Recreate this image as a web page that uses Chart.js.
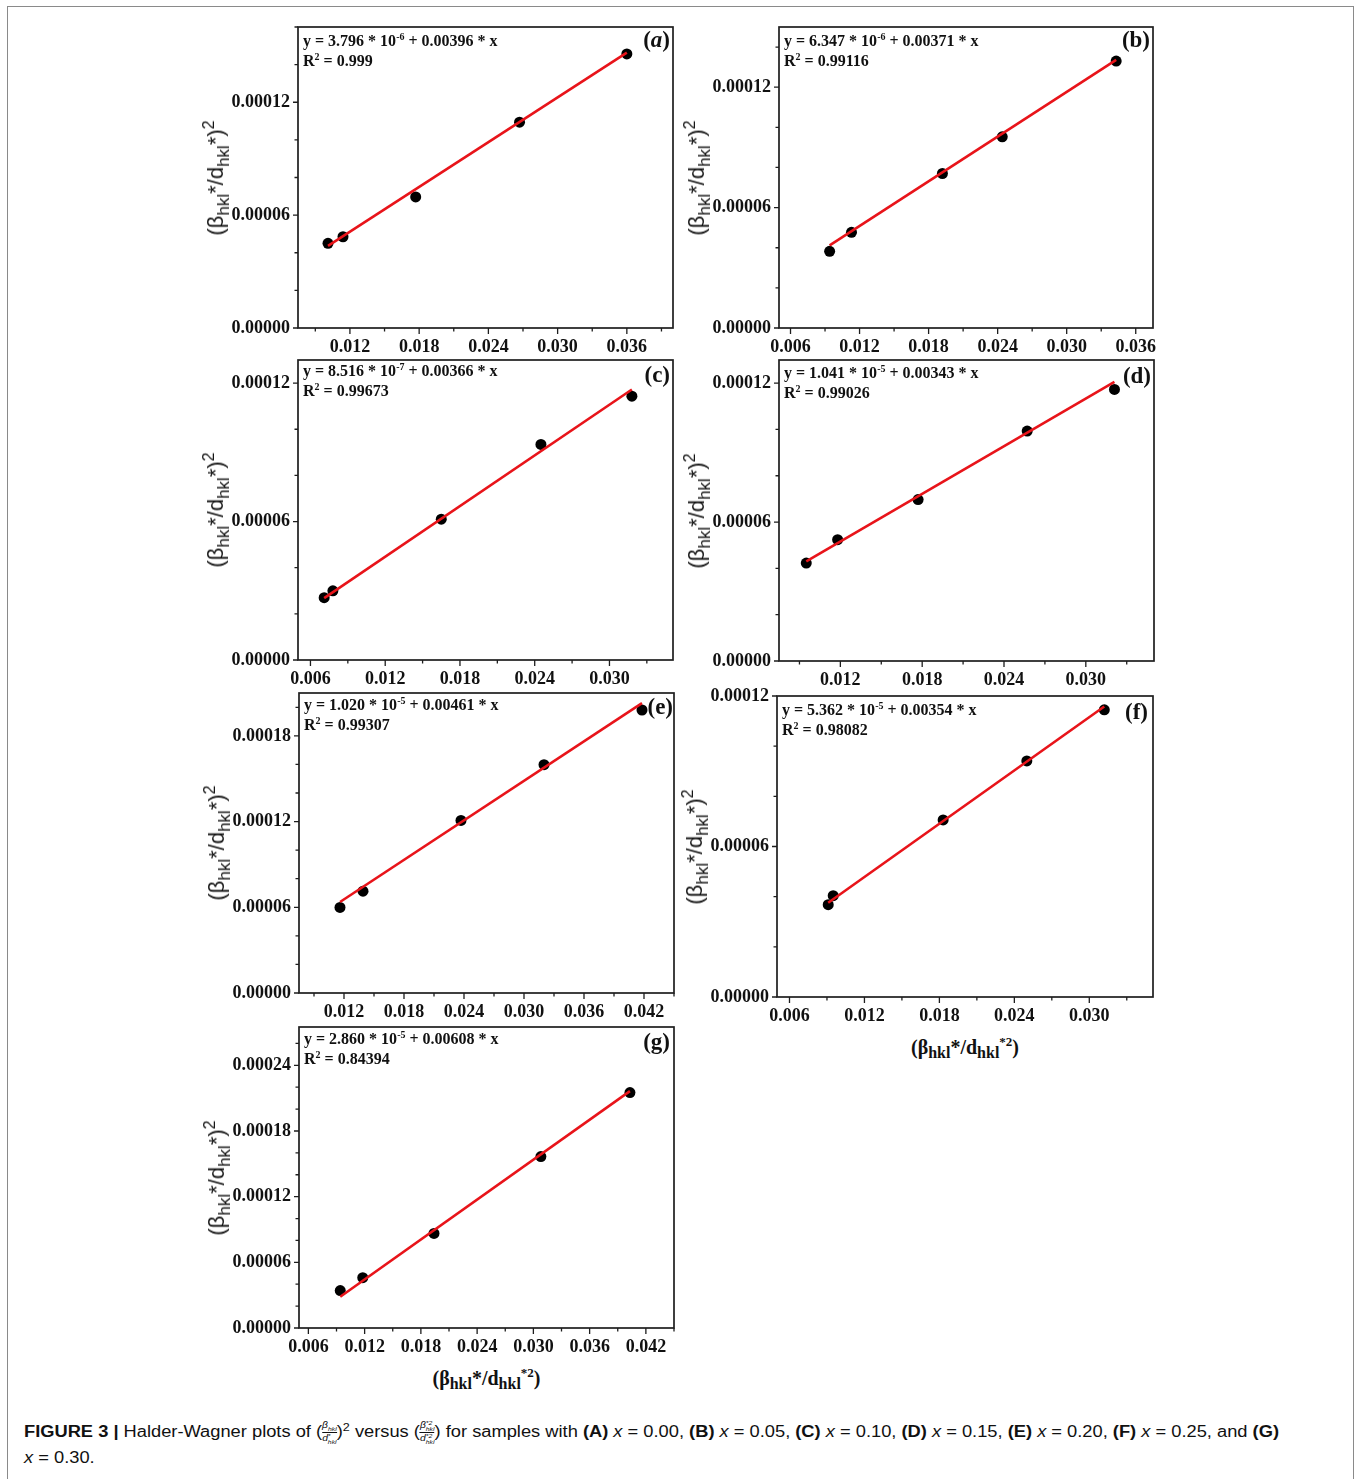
<!DOCTYPE html>
<html>
<head>
<meta charset="utf-8">
<script src="https://cdn.jsdelivr.net/npm/chart.js@4.4.1/dist/chart.umd.min.js"></script>
<style>
body { margin: 0; background: #fff; width: 1356px; height: 1479px; position: relative; overflow: hidden; }
#border { position: absolute; left: 7px; top: 6px; width: 1347px; height: 1500px; border: 1.5px solid #8a8a8a; box-sizing: border-box; }
.panel { position: absolute; }
.panel canvas { position: absolute; left: 0; top: 0; }
.eq { position: absolute; font-family: 'Liberation Serif', serif; font-weight: bold; font-size: 16px; line-height: 20px; color: #111; white-space: nowrap; }
.eq sup { font-size: 10px; vertical-align: 6px; line-height: 0; }
.tag { position: absolute; font-family: 'Liberation Serif', serif; font-weight: bold; font-size: 23px; line-height: 22px; color: #111; transform: translateX(-100%); white-space: nowrap; }
.ytitle { position: absolute; font-family: 'Liberation Sans', sans-serif; font-size: 22px; line-height: 26px; color: #151515; white-space: nowrap; transform: translate(-50%, -50%) rotate(-90deg); }
.ytitle sub { font-size: 17px; vertical-align: -6px; line-height: 0; }
.ytitle sup { font-size: 16px; vertical-align: 9px; line-height: 0; }
.xtitle { position: absolute; font-family: 'Liberation Serif', serif; font-weight: bold; font-size: 20px; line-height: 24px; color: #111; white-space: nowrap; transform: translateX(-50%); }
.xtitle sub { font-size: 16px; vertical-align: -4px; line-height: 0; }
.xtitle sup { font-size: 13px; vertical-align: 8px; line-height: 0; }
#cap { position: absolute; left: 24px; top: 1419px; font-family: 'Liberation Sans', sans-serif; font-size: 16px; line-height: 26px; color: #111; white-space: nowrap; transform-origin: 0 0; }
#cap sup.p { font-size: 11px; vertical-align: 6px; line-height: 0; }
.fr { display: inline-flex; flex-direction: column; vertical-align: middle; font-size: 9px; line-height: 10px; font-style: italic; text-align: center; }
.fr .nu { border-bottom: 1px solid #111; }
.ss { display: inline-flex; flex-direction: column; vertical-align: middle; font-size: 6px; line-height: 6px; text-align: left; }
</style>
</head>
<body>
<div id="border"></div>

<div id="cap"><span id="cap1"><b>FIGURE 3 |</b> Halder-Wagner plots of (<span class="fr"><span class="nu">β<span class="ss"><span>&nbsp;</span><span>hkl</span></span></span><span>d<span class="ss"><span>*</span><span>hkl</span></span></span></span>)<sup class="p">2</sup> versus (<span class="fr"><span class="nu">β<span class="ss"><span>*2</span><span>hkl</span></span></span><span>d<span class="ss"><span>*2</span><span>hkl</span></span></span></span>) for samples with <b>(A)</b> <i>x</i> = 0.00, <b>(B)</b> <i>x</i> = 0.05, <b>(C)</b> <i>x</i> = 0.10, <b>(D)</b> <i>x</i> = 0.15, <b>(E)</b> <i>x</i> = 0.20, <b>(F)</b> <i>x</i> = 0.25, and <b>(G)</b></span><br><span><i>x</i> = 0.30.</span></div>

<script>
// measured points (x = beta*/d*^2, y = (beta*/d*)^2)
const aX = [0.0101, 0.0114, 0.0177, 0.0267, 0.0360];
const aY = [4.50e-5, 4.85e-5, 6.97e-5, 10.94e-5, 14.57e-5];
const bX = [0.0094, 0.0113, 0.0192, 0.0244, 0.0343];
const bY = [3.82e-5, 4.77e-5, 7.70e-5, 9.53e-5, 13.30e-5];
const cX = [0.0071, 0.0078, 0.0165, 0.0245, 0.0318];
const cY = [2.70e-5, 3.00e-5, 6.10e-5, 9.34e-5, 11.43e-5];
const dX = [0.0095, 0.0118, 0.0177, 0.0257, 0.0321];
const dY = [4.23e-5, 5.24e-5, 6.97e-5, 9.93e-5, 11.73e-5];
const eX = [0.0116, 0.0139, 0.0237, 0.0320, 0.0418];
const eY = [5.99e-5, 7.13e-5, 12.08e-5, 15.98e-5, 19.81e-5];
const fX = [0.0091, 0.0095, 0.0183, 0.0250, 0.0312];
const fY = [3.68e-5, 4.04e-5, 7.06e-5, 9.41e-5, 11.45e-5];
const gX = [0.0094, 0.0118, 0.0194, 0.0308, 0.0403];
const gY = [3.42e-5, 4.60e-5, 8.64e-5, 15.66e-5, 21.51e-5];

// fitted line end points
const aFitX = [0.0101, 0.0360], aFitY = [4.37e-5, 14.64e-5];
const bFitX = [0.0094, 0.0343], bFitY = [4.12e-5, 13.36e-5];
const cFitX = [0.0071, 0.0318], cFitY = [2.68e-5, 11.72e-5];
const dFitX = [0.0095, 0.0321], dFitY = [4.30e-5, 12.05e-5];
const eFitX = [0.0116, 0.0418], eFitY = [6.37e-5, 20.29e-5];
const fFitX = [0.0091, 0.0312], fFitY = [3.76e-5, 11.58e-5];
const gFitX = [0.0094, 0.0403], gFitY = [2.85e-5, 21.64e-5];

// fit equations as printed
const tags = ['a', 'b', 'c', 'd', 'e', 'f', 'g'];
const eqIntercept = ['3.796', '6.347', '8.516', '1.041', '1.020', '5.362', '2.860'];
const eqExponent = ['-6', '-6', '-7', '-5', '-5', '-5', '-5'];
const eqSlope = ['0.00396', '0.00371', '0.00366', '0.00343', '0.00461', '0.00354', '0.00608'];
const rSquared = ['0.999', '0.99116', '0.99673', '0.99026', '0.99307', '0.98082', '0.84394'];

const RED = '#e8141a';
const INK = '#1e1e1e';
const PADL = 110, PADR = 15, PADT = 15, PADB = 35;
const tickFont = { family: 'Liberation Serif', weight: 'bold', size: 18 };

// frame rect on the page + axis ranges
const panels = [
    { xs: aX, ys: aY, fx: aFitX, fy: aFitY, L: 298, T: 27, R: 673, B: 328, xMin: 0.0075, xMax: 0.04, yMax: 0.00016, eqDy: 4, tagDy: 20, tagDx: 3, xTitle: false },
    { xs: bX, ys: bY, fx: bFitX, fy: bFitY, L: 779, T: 27, R: 1153, B: 328, xMin: 0.005, xMax: 0.0375, yMax: 0.00015, eqDy: 4, tagDy: 20, tagDx: 3, xTitle: false },
    { xs: cX, ys: cY, fx: cFitX, fy: cFitY, L: 298, T: 360, R: 673, B: 660, xMin: 0.005, xMax: 0.0351, yMax: 0.00013, eqDy: 1, tagDy: 22, tagDx: 3, xTitle: false },
    { xs: dX, ys: dY, fx: dFitX, fy: dFitY, L: 779, T: 360, R: 1154, B: 661, xMin: 0.0075, xMax: 0.035, yMax: 0.00013, eqDy: 3, tagDy: 23, tagDx: 3, xTitle: false },
    { xs: eX, ys: eY, fx: eFitX, fy: eFitY, L: 299, T: 693, R: 674, B: 993, xMin: 0.0075, xMax: 0.045, yMax: 0.00021, eqDy: 2, tagDy: 21, tagDx: 1, xTitle: false },
    { xs: fX, ys: fY, fx: fFitX, fy: fFitY, L: 777, T: 696, R: 1153, B: 997, xMin: 0.005, xMax: 0.0351, yMax: 0.00012, eqDy: 4, tagDy: 23, tagDx: 5, xTitle: true },
    { xs: gX, ys: gY, fx: gFitX, fy: gFitY, L: 299, T: 1027, R: 674, B: 1328, xMin: 0.005, xMax: 0.045, yMax: 0.000275, eqDy: 2, tagDy: 22, tagDx: 4, xTitle: true }
];

function isMajor(v, m) {
    const r = v / m;
    return Math.abs(r - Math.round(r)) < 1e-6;
}

// box round the plot area, outward ticks (long at labels, short between)
const frameTicks = {
    id: 'frameTicks',
    afterDraw(chart) {
        const ctx = chart.ctx;
        const a = chart.chartArea;
        const sx = chart.scales.x, sy = chart.scales.y;
        ctx.save();
        ctx.strokeStyle = INK;
        ctx.lineWidth = 1.3;
        ctx.beginPath();
        sx.ticks.forEach(t => {
            const px = sx.getPixelForValue(t.value);
            const len = isMajor(t.value, 0.006) ? 6 : 3.5;
            ctx.moveTo(px, a.bottom);
            ctx.lineTo(px, a.bottom + len);
        });
        sy.ticks.forEach(t => {
            const py = sy.getPixelForValue(t.value);
            const len = isMajor(t.value, 0.00006) ? 5 : 3.5;
            ctx.moveTo(a.left, py);
            ctx.lineTo(a.left - len, py);
        });
        ctx.stroke();
        ctx.lineWidth = 1.7;
        ctx.strokeRect(a.left, a.top, a.right - a.left, a.bottom - a.top);
        ctx.restore();
    }
};

function makePanel(p, i) {
    const W = (p.R - p.L) + PADL + PADR;
    const H = (p.B - p.T) + PADT + PADB;
    const wrap = document.createElement('div');
    wrap.className = 'panel';
    wrap.style.left = (p.L - PADL) + 'px';
    wrap.style.top = (p.T - PADT) + 'px';
    wrap.style.width = W + 'px';
    wrap.style.height = H + 'px';
    const cv = document.createElement('canvas');
    cv.width = W;
    cv.height = H;
    cv.style.width = W + 'px';
    cv.style.height = H + 'px';
    wrap.appendChild(cv);
    document.body.appendChild(wrap);

    const pts = p.xs.map((x, k) => ({ x: x, y: p.ys[k] }));
    const fit = p.fx.map((x, k) => ({ x: x, y: p.fy[k] }));

    new Chart(cv.getContext('2d'), {
        type: 'scatter',
        data: {
            datasets: [
                { data: fit, showLine: true, borderColor: RED, borderWidth: 2.6, pointRadius: 0, order: 0 },
                { data: pts, backgroundColor: '#000', borderColor: '#000', borderWidth: 0, pointRadius: 5.5, order: 1 }
            ]
        },
        options: {
            responsive: false,
            animation: false,
            devicePixelRatio: 1,
            layout: { padding: { left: 0, top: PADT, right: PADR, bottom: 0 } },
            plugins: { legend: { display: false }, tooltip: { enabled: false } },
            scales: {
                x: {
                    type: 'linear', min: p.xMin, max: p.xMax,
                    grid: { display: false, drawTicks: false }, border: { display: false },
                    ticks: {
                        stepSize: 0.003, autoSkip: false, maxRotation: 0, includeBounds: false,
                        padding: 9, font: tickFont, color: '#111',
                        callback: v => isMajor(v, 0.006) ? v.toFixed(3) : ''
                    },
                    afterFit(s) { s.height = PADB; s.paddingLeft = 0; s.paddingRight = 0; }
                },
                y: {
                    type: 'linear', min: 0, max: p.yMax,
                    grid: { display: false, drawTicks: false }, border: { display: false },
                    ticks: {
                        stepSize: 0.00002, autoSkip: false, includeBounds: false,
                        padding: 8, font: tickFont, color: '#111',
                        callback: v => isMajor(v, 0.00006) ? v.toFixed(5) : ''
                    },
                    afterFit(s) { s.width = PADL; s.paddingTop = 0; s.paddingBottom = 0; }
                }
            }
        },
        plugins: [frameTicks]
    });

    // fit equation in the top left corner
    const eq = document.createElement('div');
    eq.className = 'eq';
    eq.style.left = (p.L + 5) + 'px';
    eq.style.top = (p.T + p.eqDy) + 'px';
    eq.innerHTML = 'y = ' + eqIntercept[i] + ' * 10<sup>' + eqExponent[i] + '</sup> + ' + eqSlope[i] +
        ' * x<br>R<sup>2</sup> = ' + rSquared[i];
    document.body.appendChild(eq);

    // panel letter
    const tag = document.createElement('div');
    tag.className = 'tag';
    tag.style.left = (p.R - p.tagDx) + 'px';
    tag.style.top = (p.T + p.tagDy - 18) + 'px';
    tag.innerHTML = i === 0 ? '(<i>a</i>)' : '(' + tags[i] + ')';
    document.body.appendChild(tag);

    // y axis title
    const yt = document.createElement('div');
    yt.className = 'ytitle';
    yt.style.left = (p.L - 82) + 'px';
    yt.style.top = ((p.T + p.B) / 2) + 'px';
    yt.innerHTML = '(β<sub>hkl</sub>*/d<sub>hkl</sub>*)<sup>2</sup>';
    document.body.appendChild(yt);

    if (p.xTitle) {
        const xt = document.createElement('div');
        xt.className = 'xtitle';
        xt.style.left = ((p.L + p.R) / 2) + 'px';
        xt.style.top = (p.B + 38) + 'px';
        xt.innerHTML = '(β<sub>hkl</sub>*/d<sub>hkl</sub><sup>*2</sup>)';
        document.body.appendChild(xt);
    }
}

panels.forEach(makePanel);

// squeeze caption to the printed line width
const cap = document.getElementById('cap');
const w = document.getElementById('cap1').getBoundingClientRect().width;
cap.style.transform = 'scaleX(' + (1255 / w) + ')';
</script>
</body>
</html>
